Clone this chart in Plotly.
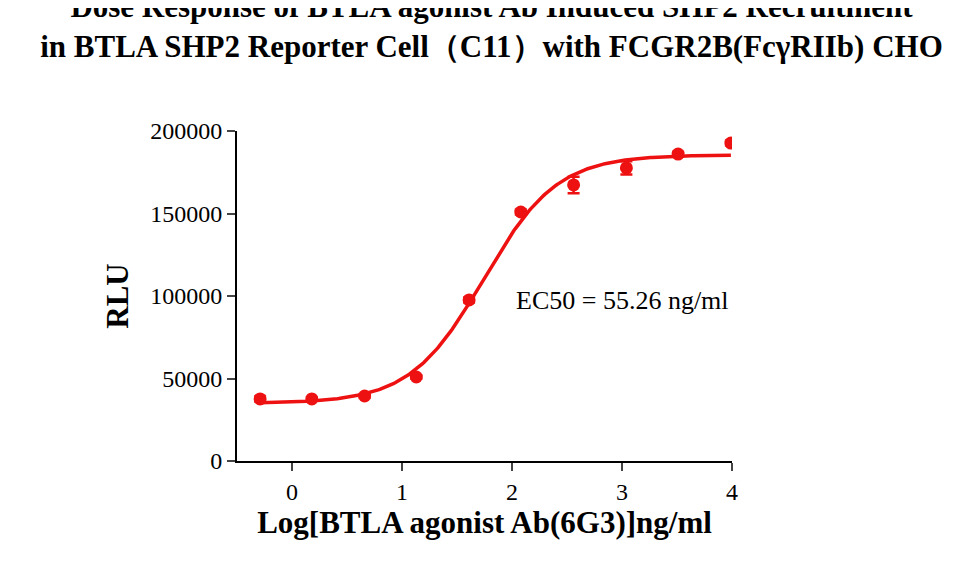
import numpy as np
import plotly.graph_objects as go

log_dose = [-0.29, 0.18, 0.66, 1.13, 1.61, 2.08, 2.56, 3.04, 3.51, 3.99]
rlu = [37600, 37600, 39400, 50900, 97600, 150900, 167300, 177600, 186000, 192700]
rlu_err = [1500, 1000, 1200, 1000, 1500, 1500, 5000, 4000, 1500, 1500]
# 4PL fit parameters
bottom, top, logec50, hill = 35000, 185500, 1.742, 1.3

xc = np.linspace(-0.29, 3.99, 300)
yc = bottom + (top - bottom) / (1 + 10 ** ((logec50 - xc) * hill))

fig = go.Figure()
fig.add_trace(go.Scatter(x=xc, y=yc, mode="lines", line=dict(color="#ee1111", width=3.5), hoverinfo="skip"))
fig.add_trace(go.Scatter(x=log_dose, y=rlu, mode="markers",
                         marker=dict(color="#ee1111", size=13),
                         error_y=dict(type="data", array=rlu_err, color="#ee1111", thickness=2.5, width=6)))
fig.add_annotation(x=2.02, y=97000, xref="x", yref="y", text="EC50 = 55.26 ng/ml", showarrow=False,
                   xanchor="left", font=dict(size=26, color="black", family="Liberation Serif"))
fig.update_layout(
    width=967, height=571, showlegend=False, plot_bgcolor="white", paper_bgcolor="white",
    margin=dict(l=229, r=243, t=123, b=118),
    font=dict(family="Liberation Serif", color="black"),
    title=dict(text="<b>Dose Response of BTLA agonist Ab Induced SHP2 Recruitment<br>in BTLA SHP2 Reporter Cell（C11）with FCGR2B(FcγRIIb) CHO</b>",
               x=0.5, xanchor="center", y=0.985, yanchor="top", font=dict(size=31)),
    xaxis=dict(range=[-0.5, 4.0], tickvals=[0, 1, 2, 3, 4], showline=True, linecolor="black", linewidth=2,
               ticks="outside", tickwidth=2, ticklen=8, tickfont=dict(size=24), showgrid=False, zeroline=False,
               title=dict(text="<b>Log[BTLA agonist Ab(6G3)]ng/ml</b>", font=dict(size=31), standoff=8)),
    yaxis=dict(range=[0, 200000], tickvals=[0, 50000, 100000, 150000, 200000], tickformat="d",
               showline=True, linecolor="black", linewidth=2, ticks="outside", tickwidth=2, ticklen=8,
               tickfont=dict(size=24), showgrid=False, zeroline=False,
               title=dict(text="<b>RLU</b>", font=dict(size=31), standoff=12)),
)
fig.write_html("out.html")
